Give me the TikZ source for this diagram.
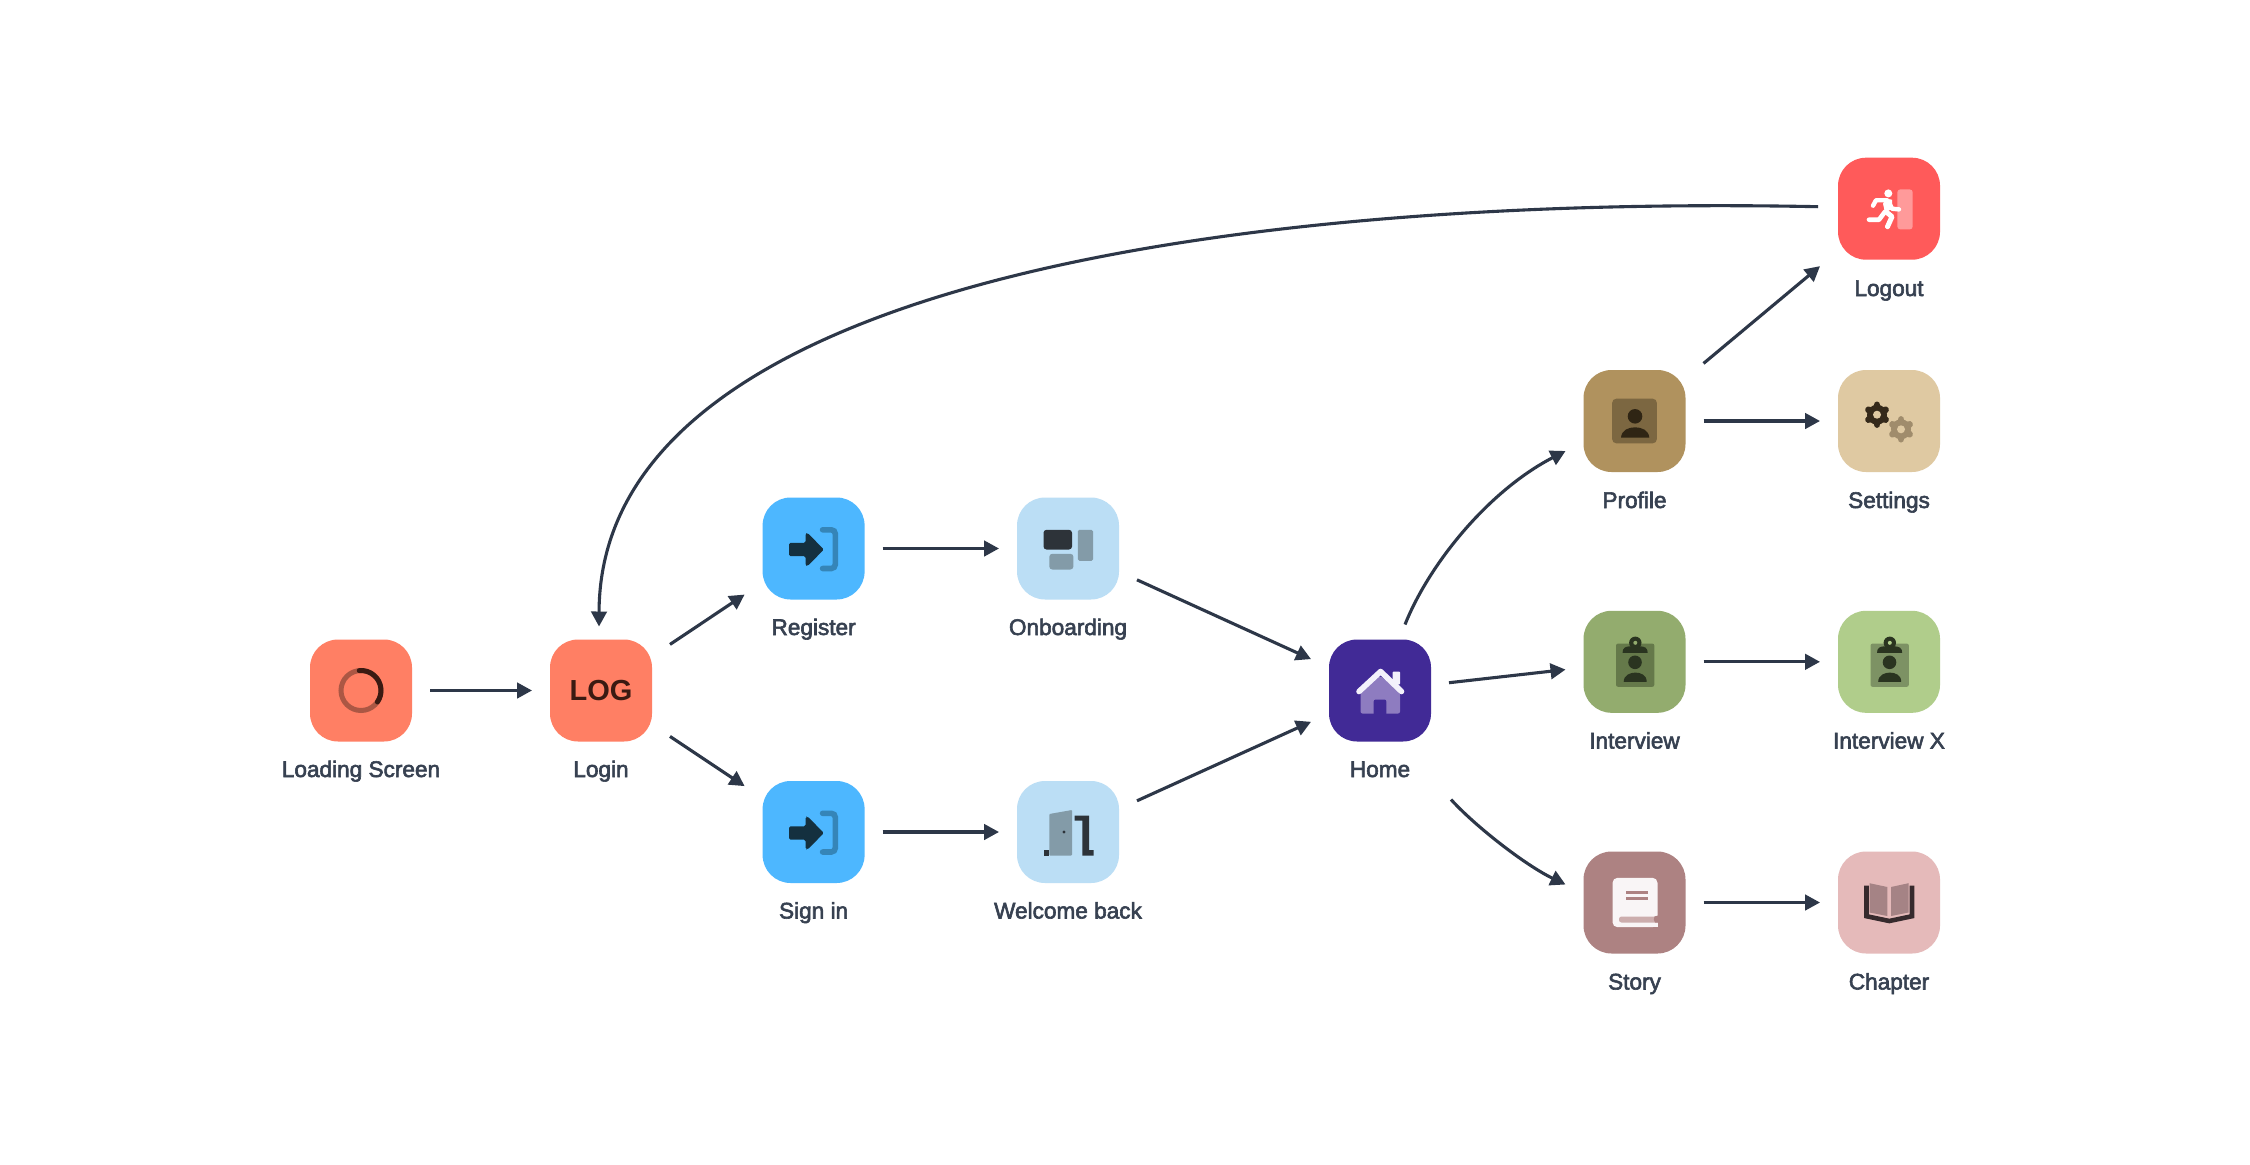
\documentclass[tikz,border=0pt]{standalone}
\usepackage{fontspec}
\usetikzlibrary{arrows.meta}
\setmainfont{Liberation Sans}
\newfontfamily\labfont{Liberation Sans}[FakeBold=2.6]
\definecolor{coral}{HTML}{FF7F64}
\definecolor{skyb}{HTML}{4DB7FF}
\definecolor{paleb}{HTML}{BBDEF5}
\definecolor{homeb}{HTML}{412A96}
\definecolor{logoutb}{HTML}{FF5A5A}
\definecolor{profb}{HTML}{B0925E}
\definecolor{setb}{HTML}{DFC9A2}
\definecolor{intb}{HTML}{93AC6E}
\definecolor{intxb}{HTML}{B0CD8B}
\definecolor{storyb}{HTML}{AD8282}
\definecolor{chapb}{HTML}{E5BABA}
\definecolor{labc}{HTML}{374151}
\definecolor{conc}{HTML}{2D3748}
\definecolor{logtext}{HTML}{3A1A12}
\definecolor{ringc}{HTML}{AB5744}
\definecolor{enterdark}{HTML}{14303F}
\definecolor{enterbr}{HTML}{3585B8}
\definecolor{obdark}{HTML}{2D3339}
\definecolor{obgrey}{HTML}{839BA8}
\definecolor{homelight}{HTML}{8E7CC0}
\definecolor{homewhite}{HTML}{F3F1FB}
\definecolor{doorpale}{HTML}{FF9A9A}
\definecolor{profsq}{HTML}{7C6741}
\definecolor{profdark}{HTML}{2F2514}
\definecolor{geardark}{HTML}{35291A}
\definecolor{gearlight}{HTML}{A08C6C}
\definecolor{clipdark}{HTML}{2A3420}
\definecolor{boarda}{HTML}{65794A}
\definecolor{boardb}{HTML}{7D9264}
\definecolor{bookw}{HTML}{F9F5F6}
\definecolor{bookband}{HTML}{CCADAD}
\definecolor{covdark}{HTML}{362A2D}
\definecolor{pagec}{HTML}{A58385}
\tikzset{
  box/.style={rectangle,rounded corners=28pt,minimum size=102pt,inner sep=0pt,outer sep=18pt,draw=none},
  lab/.style={anchor=base,font=\labfont\fontsize{22.6pt}{26pt}\selectfont,text=labc,inner sep=0pt},
  conn/.style={draw=conc,line width=3.1pt,-{Triangle[length=15pt,width=15.5pt]}},
}
\newcommand{\gearicon}[4]{%
  \begin{scope}[shift={(#1,#2)}]
    \fill[#3] (0,0) circle[radius=10];
    \foreach \a in {30,90,150,210,270,330}
      \draw[#3,line width=6.8pt,line cap=round] (\a:7) -- (\a:9.8);
    \fill[#4] (0,0) circle[radius=4];
  \end{scope}}
\newcommand{\clipicon}[3]{%
  \begin{scope}[shift={(#1)}]
    \fill[#2,rounded corners=2pt] (-18.5,-18.2) rectangle (19.8,25);
    \fill[clipdark] (0.8,-19) circle[radius=6.2];
    \fill[clipdark] (-12,-9) .. controls (-12,-14) and (-9,-15.5) .. (-4,-15.5) -- (5,-15.5) .. controls (10,-15.5) and (13.2,-14) .. (13.2,-9) -- cycle;
    \fill[#3] (0.8,-19) circle[radius=2];
    \fill[clipdark] (0.5,0.5) circle[radius=6.8];
    \fill[clipdark] (-10.8,20) .. controls (-10.8,13) and (-4,10.8) .. (0.8,10.8) .. controls (6,10.8) and (12.2,13) .. (12.2,20) -- cycle;
  \end{scope}}
\newcommand{\entericon}[1]{%
  \begin{scope}[shift={(#1)}]
    \fill[enterdark,rounded corners=1.5pt] (-24.5,-5.7) -- (-8,-5.7) -- (-8,-15.2) -- (-6,-15.5) -- (10.3,1) -- (-6,17.5) -- (-8,17.2) -- (-8,7.7) -- (-24.5,7.7) -- cycle;
    \draw[enterbr,line width=5.6pt,line cap=round,rounded corners=4pt] (9,-18.7) -- (21.7,-18.7) -- (21.7,20) -- (9,20);
  \end{scope}}
\begin{document}
\begin{tikzpicture}[x=1pt,y=-1pt]
\useasboundingbox (0,0) rectangle (2250,1164);
\fill[white] (0,0) rectangle (2250,1164);

% boxes
\node[box,fill=coral] (load) at (361,690.5) {};
\node[box,fill=coral,text=logtext,font=\bfseries\fontsize{29pt}{30pt}\selectfont] (login) at (601,690.5) {LOG};
\node[box,fill=skyb] (register) at (813.6,548.5) {};
\node[box,fill=skyb] (signin) at (813.6,832) {};
\node[box,fill=paleb] (onboard) at (1068,548.5) {};
\node[box,fill=paleb] (welcome) at (1068,832) {};
\node[box,fill=homeb] (home) at (1380,690.5) {};
\node[box,fill=profb] (profile) at (1634.5,421) {};
\node[box,fill=intb] (interview) at (1634.5,661.8) {};
\node[box,fill=storyb] (story) at (1634.5,902.5) {};
\node[box,fill=logoutb] (logout) at (1889,208.7) {};
\node[box,fill=setb] (settings) at (1889,421) {};
\node[box,fill=intxb] (interviewx) at (1889,661.8) {};
\node[box,fill=chapb] (chapter) at (1889,902.5) {};

% labels
\node[lab] (loadl) at (361,777) {Loading Screen};
\node[lab] (loginl) at (601,777) {Login};
\node[lab] (registerl) at (813.6,635) {Register};
\node[lab] (signinl) at (813.6,918.5) {Sign in};
\node[lab] (onboardl) at (1068,635) {Onboarding};
\node[lab] (welcomel) at (1068,918.5) {Welcome back};
\node[lab] (homel) at (1380,777) {Home};
\node[lab] (profilel) at (1634.5,508) {Profile};
\node[lab] (interviewl) at (1634.5,748.5) {Interview};
\node[lab] (storyl) at (1634.5,989.5) {Story};
\node[lab] (logoutl) at (1889,296) {Logout};
\node[lab] (settingsl) at (1889,508) {Settings};
\node[lab] (interviewxl) at (1889,748.5) {Interview X};
\node[lab] (chapterl) at (1889,989.5) {Chapter};

% connectors
\draw[conn] (load) -- (login);
\draw[conn] (login) -- (register);
\draw[conn] (login) -- (signin);
\draw[conn] (register) -- (onboard);
\draw[conn] (signin) -- (welcome);
\draw[conn] (onboard) -- (home);
\draw[conn] (welcome) -- (home);
\draw[conn] (home) -- (interview);
\draw[conn] (profile) -- (logout);
\draw[conn] (profile) -- (settings);
\draw[conn] (interview) -- (interviewx);
\draw[conn] (story) -- (chapter);
\draw[conn] ([shift={(25,3)}]home.north) .. controls (1430,562) and (1490,490) .. ([shift={(0,30)}]profile.west);
\draw[conn] ([shift={(2,40)}]home.south east) .. controls (1475,826) and (1525,865) .. ([shift={(0,-18)}]story.west);
\draw[conn] ([shift={(-2,-2)}]logout.west) .. controls (1300,196) and (600,266) .. ([shift={(-2,5)}]login.north);

% loading icon
\begin{scope}[shift={(load.center)}]
  \draw[ringc,line width=5pt] (0,0) circle[radius=20];
  \draw[logtext,line width=5pt,line cap=round] (265:20) arc[start angle=265,end angle=395,radius=20];
\end{scope}

\entericon{register.center}
\entericon{signin.center}

% onboarding icon
\begin{scope}[shift={(onboard.center)}]
  \fill[obdark,rounded corners=3pt] (-24.5,-18.7) rectangle (4,1);
  \fill[obgrey,rounded corners=1.5pt] (9.8,-18.7) rectangle (25,12.3);
  \fill[obgrey,rounded corners=3pt] (-18.7,5.3) rectangle (5.4,21);
\end{scope}

% welcome icon
\begin{scope}[shift={(welcome.center)}]
  \fill[obgrey,rounded corners=0.8pt] (-18.7,23.5) -- (-18.7,-18) -- (4,-22) -- (4,23.5) -- cycle;
  \fill[obdark] (-4,0) circle[radius=1.6];
  \fill[obdark] (-24.5,18) rectangle (-18.7,23.5);
  \fill[obdark] (6.7,-16.5) -- (21,-16.5) -- (21,18) -- (25.5,18) -- (25.5,23.5) -- (14.3,23.5) -- (14.3,-11.5) -- (6.7,-11.5) -- cycle;
\end{scope}

% home icon
\begin{scope}[shift={(home.center)}]
  \fill[homelight,rounded corners=2pt] (-19.5,23) -- (-19.5,2) -- (0,-15) -- (20,2) -- (20,23) -- cycle;
  \fill[homeb,rounded corners=2pt] (-6.3,26) -- (-6.3,9) -- (6.3,9) -- (6.3,26) -- cycle;
  \fill[homewhite,rounded corners=1pt] (12.6,-19) rectangle (20,-6);
  \draw[homewhite,line width=5.6pt,line cap=round,line join=round] (-21,1) -- (0.6,-19) -- (21.5,1);
\end{scope}

% logout icon
\begin{scope}[shift={(logout.center)}]
  \fill[doorpale,rounded corners=3pt] (8.3,-19.3) rectangle (23.7,20.7);
  \fill[white] (-0.7,-15.3) circle[radius=4];
  \fill[white] (-3,-10) -- (3,-9) -- (3,0) -- (-4,4) -- (-6,-5) -- cycle;
  \draw[white,line width=4.4pt,line cap=round,line join=round] (-16,-3) -- (-13,-8.5) -- (-2,-8.5);
  \draw[white,line width=4.4pt,line cap=round,line join=round] (1,-4) -- (3,0) -- (10,0.7);
  \draw[white,line width=5pt,line cap=round,line join=round] (-3,3) -- (3,8) -- (-1.5,18);
  \draw[white,line width=4.6pt,line cap=round,line join=round] (-4,3) -- (-10,11) -- (-20,11);
\end{scope}

% profile icon
\begin{scope}[shift={(profile.center)}]
  \fill[profsq,rounded corners=4pt] (-22.3,-22.3) rectangle (22.3,22.3);
  \fill[profdark] (0.5,-4.7) circle[radius=7.3];
  \fill[profdark] (-13.5,16.7) .. controls (-13,9) and (-6,6.3) .. (0.5,6.3) .. controls (7,6.3) and (14.3,9) .. (14.8,16.7) -- cycle;
\end{scope}

% settings icon
\begin{scope}[shift={(settings.center)}]
  \gearicon{-12}{-6.3}{geardark}{setb}
  \gearicon{12}{8.3}{gearlight}{setb}
\end{scope}

\clipicon{interview.center}{boarda}{intb}
\clipicon{interviewx.center}{boardb}{intxb}

% story icon
\begin{scope}[shift={(story.center)}]
  \fill[bookw,rounded corners=5pt] (-22,-24.7) -- (23,-24.7) -- (23,24.7) -- (-22,24.7) -- cycle;
  \fill[bookw] (10,18) rectangle (23,24.7);
  \fill[bookband,rounded corners=2.5pt] (-15.5,14) -- (30,14) -- (30,20) -- (-15.5,20) -- cycle;
  \fill[storyb] (20,14) .. controls (19,16) and (19,18) .. (20.5,20) -- (23.5,20) -- (23.5,13) -- cycle;
  \fill[storyb] (23,12) rectangle (31,21);
  \fill[storyb] (-9,-11.7) rectangle (13.5,-8.7);
  \fill[storyb] (-9,-5.3) rectangle (13.5,-2.3);
\end{scope}

% chapter icon
\begin{scope}[shift={(chapter.center)}]
  \draw[covdark,line width=4.6pt,line join=miter] (-22.5,-17) -- (-22.5,13.7) -- (0.3,18.5) -- (23,13.7) -- (23,-17);
  \fill[pagec] (-19.5,-19.3) -- (-1.7,-15.5) -- (-1.7,13.5) -- (-19.5,10) -- cycle;
  \fill[pagec] (2,-15.5) -- (19.5,-19.3) -- (19.5,10) -- (2,13.5) -- cycle;
\end{scope}
\end{tikzpicture}
\end{document}
